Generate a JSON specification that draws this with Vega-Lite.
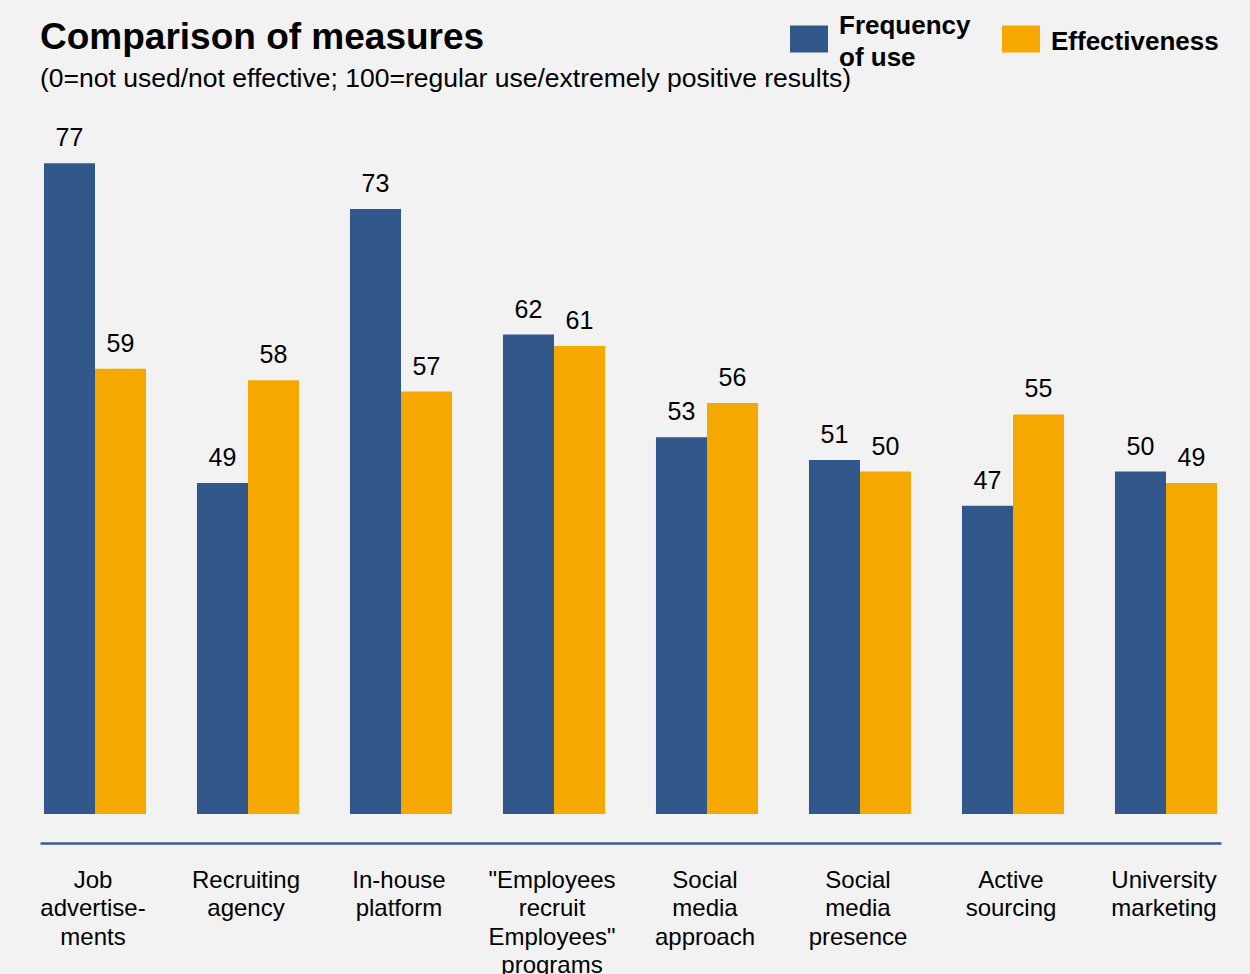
{
  "$schema": "https://vega.github.io/schema/vega-lite/v6.json",
  "width": 1181,
  "height": 685,
  "autosize": {"type": "none"},
  "padding": {"left": 40, "top": 129, "right": 29, "bottom": 160},
  "background": "#f2f2f2",
  "title": {
    "text": "Comparison of measures",
    "subtitle": "(0=not used/not effective; 100=regular use/extremely positive results)",
    "anchor": "start",
    "frame": "group",
    "font": "Liberation Sans",
    "fontSize": 37,
    "fontWeight": "bold",
    "color": "#000000",
    "subtitleFont": "Liberation Sans",
    "subtitleFontSize": 26.5,
    "subtitleColor": "#000000",
    "subtitlePadding": 9,
    "offset": -86
  },
  "data": {
    "values": [
      {"measure": "Job advertisements", "series": "Frequency of use", "value": 77},
      {"measure": "Job advertisements", "series": "Effectiveness", "value": 59},
      {"measure": "Recruiting agency", "series": "Frequency of use", "value": 49},
      {"measure": "Recruiting agency", "series": "Effectiveness", "value": 58},
      {"measure": "In-house platform", "series": "Frequency of use", "value": 73},
      {"measure": "In-house platform", "series": "Effectiveness", "value": 57},
      {"measure": "\"Employees recruit Employees\" programs", "series": "Frequency of use", "value": 62},
      {"measure": "\"Employees recruit Employees\" programs", "series": "Effectiveness", "value": 61},
      {"measure": "Social media approach", "series": "Frequency of use", "value": 53},
      {"measure": "Social media approach", "series": "Effectiveness", "value": 56},
      {"measure": "Social media presence", "series": "Frequency of use", "value": 51},
      {"measure": "Social media presence", "series": "Effectiveness", "value": 50},
      {"measure": "Active sourcing", "series": "Frequency of use", "value": 47},
      {"measure": "Active sourcing", "series": "Effectiveness", "value": 55},
      {"measure": "University marketing", "series": "Frequency of use", "value": 50},
      {"measure": "University marketing", "series": "Effectiveness", "value": 49}
    ]
  },
  "encoding": {
    "x": {
      "field": "measure",
      "type": "nominal",
      "sort": null,
      "scale": {"paddingInner": 0.333, "paddingOuter": 0.026},
      "axis": {
        "title": null,
        "orient": "bottom",
        "offset": 29,
        "domainColor": "#3d5c93",
        "domainWidth": 2.5,
        "ticks": false,
        "tickSize": 0,
        "labelPadding": 25,
        "labelOffset": -2,
        "labelFont": "Liberation Sans",
        "labelFontSize": 24,
        "labelColor": "#000000",
        "labelLineHeight": 28.5,
        "labelAngle": 0,
        "labelBaseline": "top",
        "labelLimit": 0,
        "labelExpr": "datum.value == 'Job advertisements' ? ['Job', 'advertise-', 'ments'] : split(datum.value, ' ')"
      }
    },
    "xOffset": {
      "field": "series",
      "type": "nominal",
      "sort": ["Frequency of use", "Effectiveness"],
      "scale": {"paddingInner": 0, "paddingOuter": 0}
    },
    "y": {
      "field": "value",
      "type": "quantitative",
      "scale": {"domain": [20, 80], "zero": false, "nice": false},
      "axis": null
    }
  },
  "layer": [
    {
      "mark": {"type": "bar"},
      "encoding": {
        "y2": {"datum": 20},
        "color": {
          "field": "series",
          "type": "nominal",
          "scale": {"domain": ["Frequency of use", "Effectiveness"], "range": ["#32578b", "#f5a800"]},
          "legend": {
            "orient": "none",
            "legendX": 750,
            "legendY": -122,
            "direction": "horizontal",
            "title": null,
            "padding": 0,
            "symbolType": "M-1,-0.052H1V1.368H-1Z M0,-0.684L0,-0.684 M0,2.37L0,2.37",
            "symbolSize": 1444,
            "symbolOpacity": 1,
            "symbolStrokeWidth": 0,
            "labelFont": "Liberation Sans",
            "labelFontSize": 26,
            "labelFontWeight": "bold",
            "labelColor": "#000000",
            "labelOffset": 11,
            "labelLimit": 0,
            "columnPadding": 31,
            "labelExpr": "datum.label == 'Frequency of use' ? ['Frequency', '\u2800', 'of use'] : ['\u2800', datum.label]"
          }
        }
      }
    },
    {
      "mark": {
        "type": "text",
        "baseline": "alphabetic",
        "dy": -17,
        "font": "Liberation Sans",
        "fontSize": 25,
        "color": "#000000"
      },
      "encoding": {
        "text": {"field": "value", "type": "quantitative"}
      }
    }
  ],
  "config": {
    "view": {"stroke": null},
    "style": {"guide-label": {"lineHeight": 16}}
  }
}
